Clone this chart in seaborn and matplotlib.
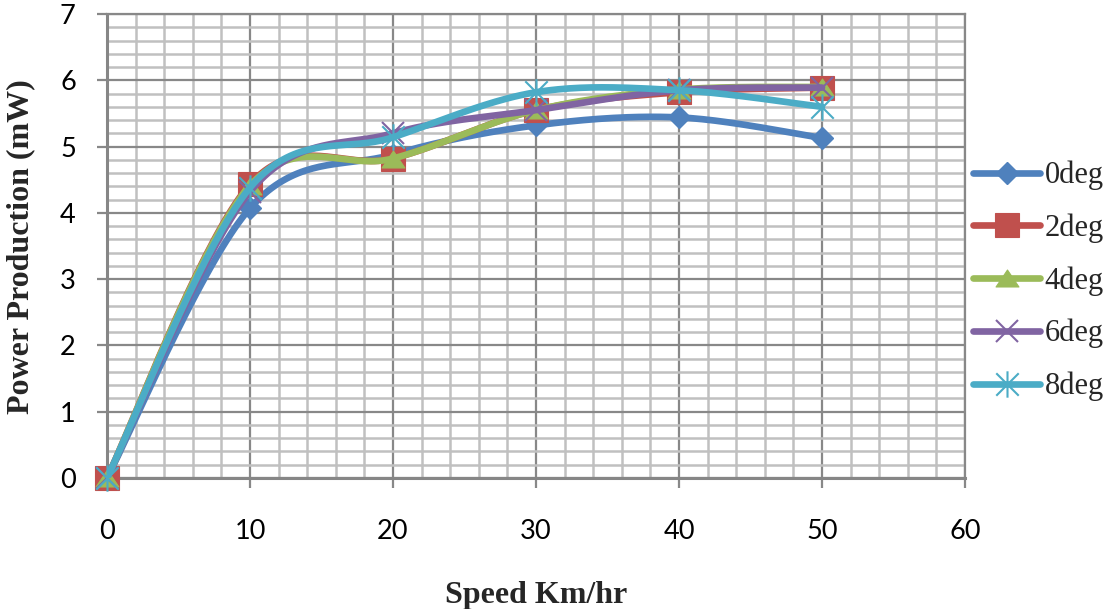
import numpy as np
import pandas as pd
import matplotlib
matplotlib.use("Agg")
import matplotlib.pyplot as plt
import seaborn as sns
from matplotlib.lines import Line2D
from matplotlib.path import Path
from matplotlib.ticker import MultipleLocator

# Measured power output per blade angle
speed = [0, 10, 20, 30, 40, 50]
power_0deg = [0.0, 4.07, 4.88, 5.32, 5.44, 5.13]
power_2deg = [0.0, 4.43, 4.82, 5.55, 5.82, 5.89]
power_4deg = [0.0, 4.41, 4.82, 5.55, 5.86, 5.90]
power_6deg = [0.0, 4.32, 5.20, 5.55, 5.85, 5.89]
power_8deg = [0.0, 4.38, 5.14, 5.82, 5.85, 5.60]
series_labels = ["0deg", "2deg", "4deg", "6deg", "8deg"]
x_ticks = [0, 10, 20, 30, 40, 50, 60]
y_ticks = [0, 1, 2, 3, 4, 5, 6, 7]

series_values = [power_0deg, power_2deg, power_4deg, power_6deg, power_8deg]
colors = ["#4F81BD", "#C0504D", "#9BBB59", "#8064A2", "#4BACC6"]

# marker shapes: diamond, square, wide triangle, cross, asterisk
tri_path = Path([(0, 0.74), (-1, -0.74), (1, -0.74), (0, 0.74)],
                [Path.MOVETO, Path.LINETO, Path.LINETO, Path.CLOSEPOLY])
star_path = Path([(0, -1), (0, 1), (-0.85, -0.85), (0.85, 0.85), (-0.85, 0.85), (0.85, -0.85)],
                 [Path.MOVETO, Path.LINETO, Path.MOVETO, Path.LINETO, Path.MOVETO, Path.LINETO])
marker_styles = [
    dict(marker="D", ms=11, mew=1.0),
    dict(marker="s", ms=17, mew=0.8),
    dict(marker=tri_path, ms=16.5, mew=0.8),
    dict(marker="x", ms=16, mew=1.5),
    dict(marker=star_path, ms=19, mew=1.5),
]


def smooth_curve(xs, ys, n=40):
    """Cubic Bezier smoothing through the points (Catmull-Rom control points)."""
    pts = np.column_stack([xs, ys]).astype(float)
    p = np.vstack([pts[0], pts, pts[-1]])
    t = np.linspace(0, 1, n)[:, None]
    out = []
    for i in range(1, len(p) - 2):
        p0, p1, p2, p3 = p[i - 1], p[i], p[i + 1], p[i + 2]
        c1 = p1 + (p2 - p0) / 6.0
        c2 = p2 - (p3 - p1) / 6.0
        seg = (1 - t) ** 3 * p1 + 3 * (1 - t) ** 2 * t * c1 + 3 * (1 - t) * t ** 2 * c2 + t ** 3 * p2
        out.append(seg if i == 1 else seg[1:])
    return np.vstack(out)


sns.set_theme(style="white")
serif = ["Liberation Serif", "DejaVu Serif"]
plt.rcParams["font.family"] = serif

fig = plt.figure(figsize=(11.13, 6.09), dpi=100)
ax = fig.add_axes([107 / 1113, 1 - 478 / 609, (965 - 107) / 1113, (478 - 14) / 609])

lw = 4.8
for k, (vals, lab, col, ms) in enumerate(zip(series_values, series_labels, colors, marker_styles)):
    curve = smooth_curve(speed, vals)
    df = pd.DataFrame({"speed": curve[:, 0], "power": curve[:, 1]})
    sns.lineplot(data=df, x="speed", y="power", sort=False, estimator=None,
                 color=col, lw=lw, ax=ax, zorder=3 + 2 * k, legend=False,
                 solid_capstyle="round", solid_joinstyle="round")
    ax.plot(speed, vals, linestyle="none", color=col, mfc=col, mec=col,
            zorder=4 + 2 * k, clip_on=False, **ms)

ax.set_xlim(0, 60)
ax.set_ylim(0, 7)
ax.set_xticks(x_ticks)
ax.set_yticks(y_ticks)
ax.xaxis.set_minor_locator(MultipleLocator(2))
ax.yaxis.set_minor_locator(MultipleLocator(0.2))
ax.grid(which="minor", color="#C0C0C0", lw=1.8, zorder=0)
ax.grid(which="major", color="#888888", lw=1.6, zorder=1)
ax.set_axisbelow(True)

for side in ["left", "bottom"]:
    ax.spines[side].set_color("#868686")
    ax.spines[side].set_linewidth(2.2)
for side in ["top", "right"]:
    ax.spines[side].set_color("#888888")
    ax.spines[side].set_linewidth(1.6)

tick_family = ["Lato", "DejaVu Sans"]
ax.tick_params(which="major", direction="out", length=7.5, width=1.6, color="#888888",
               bottom=True, left=True)
ax.tick_params(which="minor", length=0)
ax.tick_params(axis="x", pad=22)
ax.tick_params(axis="y", pad=15)
for lbl in ax.get_xticklabels() + ax.get_yticklabels():
    lbl.set_fontfamily(tick_family)
    lbl.set_fontsize(19.5)
    lbl.set_color("black")

ax.set_xlabel("")
ax.set_ylabel("")
fig.text(21 / 1113, 1 - 247 / 609, "Power Production (mW)", rotation=90,
         ha="center", va="center", fontsize=23, fontweight="bold", family=serif)
fig.text(536 / 1113, 1 - 603 / 609, "Speed Km/hr", ha="center", va="baseline",
         fontsize=23, fontweight="bold", family=serif)

handles = [Line2D([], [], color=c, lw=lw, solid_capstyle="round", mfc=c, mec=c, **m)
           for c, m in zip(colors, marker_styles)]
fig.legend(handles, series_labels, loc="center left", bbox_to_anchor=(973 / 1113, 1 - 281 / 609),
           frameon=False, prop=dict(family=serif, size=22), handlelength=2.2,
           handletextpad=0.15, labelspacing=0.76, borderpad=0, borderaxespad=0)

fig.savefig("out.png", dpi=100)
